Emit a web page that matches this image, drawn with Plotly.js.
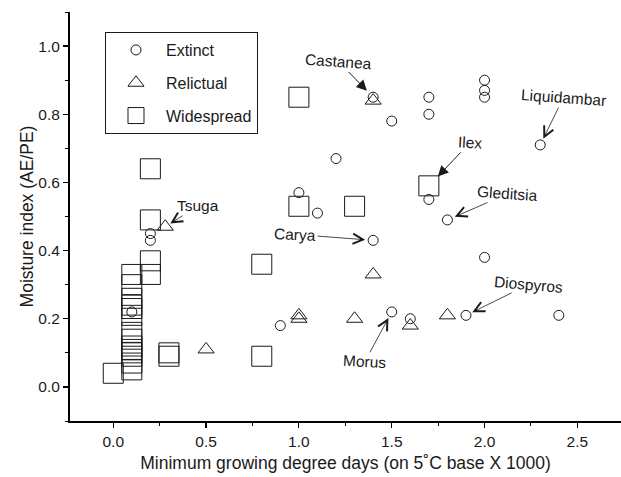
<!DOCTYPE html>
<html>
<head>
<meta charset="utf-8">
<script src="https://cdn.plot.ly/plotly-3.0.1.min.js"></script>
<style>html,body{margin:0;padding:0;background:#fff;}#chart{width:621px;height:477px;}</style>
</head>
<body>
<div id="chart"></div>
<script>
// ---- Data ----
const extinctX = [0.1, 0.2, 0.2, 0.9, 1.0, 1.1, 1.2, 1.4, 1.4, 1.5, 1.5, 1.6, 1.7, 1.7, 1.7, 1.8, 1.9, 2.0, 2.0, 2.0, 2.0, 2.3, 2.4];
const extinctY = [0.22, 0.45, 0.43, 0.18, 0.57, 0.51, 0.67, 0.85, 0.43, 0.78, 0.22, 0.20, 0.85, 0.80, 0.55, 0.49, 0.21, 0.90, 0.87, 0.85, 0.38, 0.71, 0.21];

const relictX = [0.28, 0.5, 1.0, 1.0, 1.3, 1.4, 1.4, 1.6, 1.8];
const relictY = [0.47, 0.11, 0.21, 0.20, 0.20, 0.84, 0.33, 0.18, 0.21];

const widespreadX = [0.0, 0.1, 0.1, 0.1, 0.1, 0.1, 0.1, 0.1, 0.1, 0.1, 0.1, 0.1, 0.1, 0.1, 0.1, 0.2, 0.2, 0.2, 0.2, 0.3, 0.3, 0.8, 0.8, 1.0, 1.0, 1.3, 1.7];
const widespreadY = [0.04, 0.33, 0.30, 0.26, 0.24, 0.23, 0.21, 0.16, 0.14, 0.12, 0.11, 0.10, 0.09, 0.07, 0.05, 0.64, 0.49, 0.37, 0.33, 0.10, 0.09, 0.36, 0.09, 0.85, 0.53, 0.53, 0.59];

const seriesNames = ["Extinct", "Relictual", "Widespread"];

// labelled genera and the point each label points to
const genusLabels = ["Castanea", "Ilex", "Liquidambar", "Gleditsia", "Tsuga", "Carya", "Diospyros", "Morus"];
const genusX = [1.4, 1.7, 2.3, 1.8, 0.28, 1.4, 1.9, 1.5];
const genusY = [0.85, 0.59, 0.71, 0.49, 0.47, 0.43, 0.21, 0.22];

const xTitle = "Minimum growing degree days (on 5\u02DAC base X 1000)";
const yTitle = "Moisture index (AE/PE)";

// ---- Chart ----
const FONT = '"Liberation Sans", Arial, Helvetica, sans-serif';
const INK = '#1a1a1a';

function series(x, y, name, symbol, size) {
  return {
    type: 'scatter', mode: 'markers', x: x, y: y, name: name,
    legendgroup: name,
    marker: { symbol: symbol, size: size, color: INK, line: { color: INK, width: 1 } },
    cliponaxis: false
  };
}

const traces = [
  series(extinctX, extinctY, seriesNames[0], 'circle-open', 10),
  series(relictX, relictY, seriesNames[1], 'triangle-up-open', 14),
  series(widespreadX, widespreadY, seriesNames[2], 'square-open', 20)
];

// annotation styling: [ax, ay (px offset of label from point), textangle, arrowhead, arrowsize, arrowwidth, standoff]
const labelStyle = {
  Castanea:    [-35, -36, 4, 2, 2.1, 1.0, 9],
  Ilex:        [41, -43, 3, 2, 2.1, 1.0, 13],
  Liquidambar: [23, -47, 4, 5, 2.5, 0.8, 7],
  Gleditsia:   [60, -26, 4, 5, 2.5, 0.8, 8],
  Tsuga:       [33, -21, 0, 5, 2.5, 0.8, 6],
  Carya:       [-78, -6, 3, 5, 2.5, 0.8, 8],
  Diospyros:   [63, -31, 5, 5, 2.5, 0.8, 7],
  Morus:       [-27, 50, 3, 5, 2.5, 0.8, 7]
};

const annotations = genusLabels.map((lab, i) => {
  const s = labelStyle[lab];
  return {
    x: genusX[i], y: genusY[i], xref: 'x', yref: 'y',
    text: lab, showarrow: true,
    ax: s[0], ay: s[1], textangle: s[2],
    arrowhead: s[3], arrowsize: s[4], arrowwidth: s[5], arrowcolor: INK,
    standoff: s[6],
    font: { family: FONT, size: 15.5, color: INK }
  };
});

const layout = {
  width: 621, height: 477,
  margin: { l: 70, r: 0, t: 12, b: 56 },
  paper_bgcolor: '#fff', plot_bgcolor: '#fff',
  font: { family: FONT, color: INK },
  showlegend: true,
  legend: {
    x: 0.0635, y: 0.951, xanchor: 'left', yanchor: 'top',
    bgcolor: '#fff', bordercolor: INK, borderwidth: 1,
    font: { family: FONT, size: 16, color: INK },
    tracegroupgap: 9, itemwidth: 50, entrywidth: 150
  },
  xaxis: {
    range: [-0.233, 2.735], showgrid: false, zeroline: false,
    showline: true, linecolor: '#000', linewidth: 2,
    ticks: 'outside', ticklen: 5, tickwidth: 1.2, tickcolor: '#000',
    dtick: 0.5, tick0: 0, tickformat: '.1f',
    minor: { dtick: 0.25, ticks: 'outside', ticklen: 3, tickcolor: '#000', tickwidth: 1 },
    tickfont: { family: FONT, size: 15.5, color: INK },
    title: { text: xTitle, font: { family: FONT, size: 17.5, color: INK }, standoff: 8 }
  },
  yaxis: {
    range: [-0.1, 1.1], showgrid: false, zeroline: false,
    showline: true, linecolor: '#000', linewidth: 2,
    ticks: 'outside', ticklen: 5, tickwidth: 1.2, tickcolor: '#000',
    dtick: 0.2, tick0: 0, tickformat: '.1f',
    minor: { dtick: 0.1, ticks: 'outside', ticklen: 3, tickcolor: '#000', tickwidth: 1 },
    tickfont: { family: FONT, size: 15.5, color: INK },
    title: { text: yTitle, font: { family: FONT, size: 17.5, color: INK }, standoff: 0 }
  },
  annotations: annotations
};

Plotly.newPlot('chart', traces, layout, { displayModeBar: false, staticPlot: true });
</script>
</body>
</html>
